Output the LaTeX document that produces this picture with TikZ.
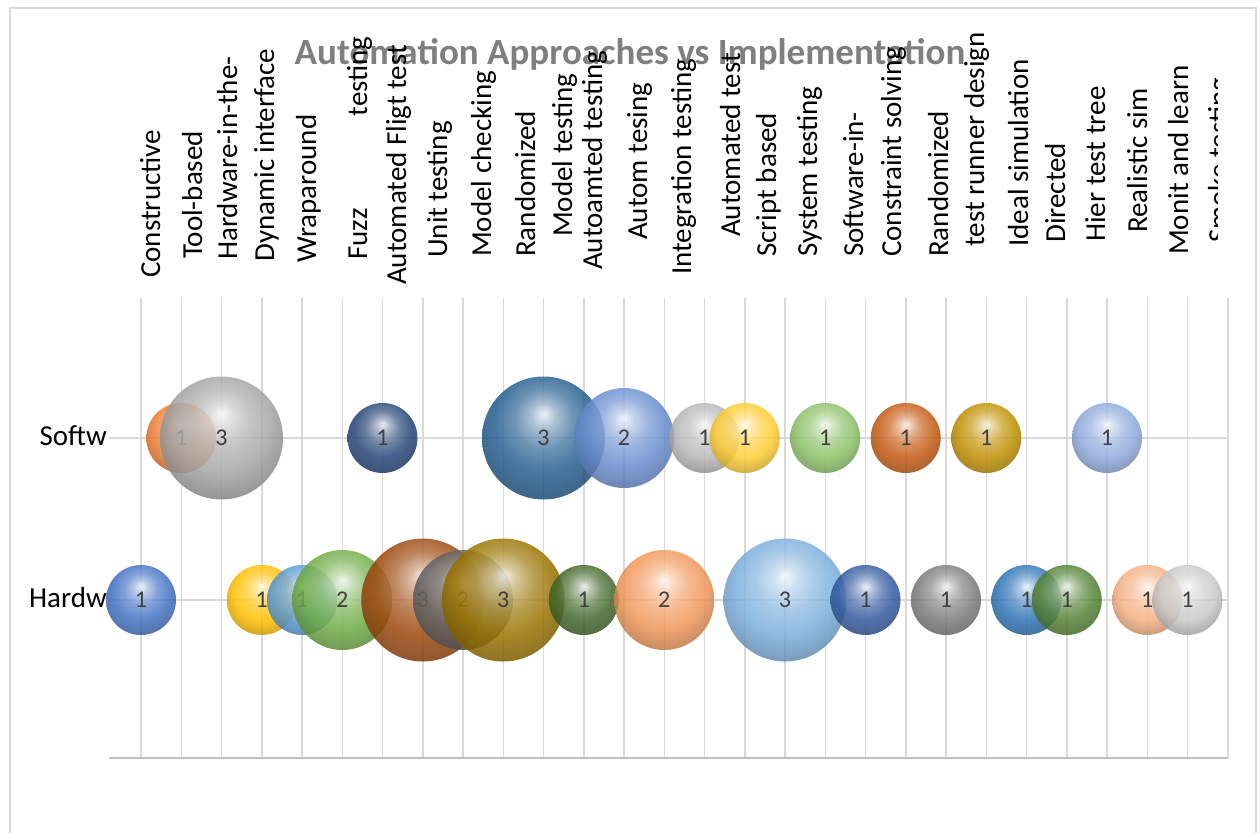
\documentclass[tikz,border=0pt]{standalone}
\usepackage{fontspec}
\setmainfont{Carlito}
\usepackage{xcolor}
\usepackage{tikz}
\usetikzlibrary{positioning,shadings}
% palette of the points, in the order of the data
\definecolor{bubA}{HTML}{4472C4}
\definecolor{bubB}{HTML}{ED7D31}
\definecolor{bubC}{HTML}{A5A5A5}
\definecolor{bubD}{HTML}{FFC000}
\definecolor{bubE}{HTML}{5B9BD5}
\definecolor{bubF}{HTML}{70AD47}
\definecolor{bubG}{HTML}{264478}
\definecolor{bubH}{HTML}{9E480E}
\definecolor{bubI}{HTML}{636363}
\definecolor{bubJ}{HTML}{997300}
\definecolor{bubK}{HTML}{255E91}
\definecolor{bubL}{HTML}{43682B}
\definecolor{bubM}{HTML}{698ED0}
\definecolor{bubN}{HTML}{F1975A}
\definecolor{bubO}{HTML}{B7B7B7}
\definecolor{bubP}{HTML}{FFCD33}
\definecolor{bubQ}{HTML}{7CAFDD}
\definecolor{bubR}{HTML}{8CC168}
\definecolor{bubS}{HTML}{335AA1}
\definecolor{bubT}{HTML}{C55A11}
\definecolor{bubU}{HTML}{7C7C7C}
\definecolor{bubV}{HTML}{BF9000}
\definecolor{bubW}{HTML}{2E75B6}
\definecolor{bubX}{HTML}{548235}
\definecolor{bubY}{HTML}{8FAADC}
\definecolor{bubZ}{HTML}{F4B183}
\definecolor{bubAA}{HTML}{C9C9C9}
\definecolor{gridgray}{HTML}{D9D9D9}
\definecolor{axisgray}{HTML}{BFBFBF}
\definecolor{titlegray}{HTML}{7F7F7F}
\definecolor{labelgray}{HTML}{404040}
\makeatletter
\pgfdeclareradialshading[tikz@ball]{bubble}{\pgfqpoint{0bp}{10bp}}{%
	color(0bp)=(tikz@ball!10!white);
	color(5bp)=(tikz@ball!45!white);
	color(12bp)=(tikz@ball!78!white);
	color(20bp)=(tikz@ball);
	color(28bp)=(tikz@ball!82!black);
	color(35bp)=(tikz@ball!68!black);
	color(50bp)=(tikz@ball!60!black)}
\makeatother
\tikzset{
	every bubble/.style = {
			circle,
			inner sep    = 0pt,
			fill opacity = .85,
			text opacity = 1,
			text         = labelgray,
			font         = \fontsize{24}{24}\selectfont,
		},
	bubble/.style = {every bubble, ball color=#1, shading=bubble},
	v1/.style = {minimum size=70pt},
	v2/.style = {minimum size=100pt},
	v3/.style = {minimum size=123pt}
}

\begin{document}
\begin{tikzpicture}
	[x=1pt, y=-1pt,
		% STYLES
		% grid lines of the plot area
		grid/.style={draw=gridgray, line width=1.5pt},
		% the rotated names along the top
		cat/.style={rotate=90, anchor=base west, inner sep=0pt,
				font=\fontsize{29}{30}\selectfont},
		% the two names of the rows
		row/.style={anchor=east, inner sep=0pt,
				font=\fontsize{29}{30}\selectfont}]

	\useasboundingbox (0,0) rectangle (1260,832);
	\clip (0,0) rectangle (1260,832);

	% Chart area
	\draw[gridgray, line width=2pt] (9.5,8) rectangle (1256,860);

	% Title
	\node[anchor=base, inner sep=0pt, text=titlegray,
		font=\fontsize{37}{37}\selectfont\bfseries] (title) at (630,65)
		{Automation Approaches vs Implementation};

	% Grid
	\foreach \i in {0,...,27}
	\draw[grid] ({141+40.25*\i},298) -- ({141+40.25*\i},757.7);
	\draw[grid] (109,438) -- (1227.75,438);
	\draw[grid] (109,600) -- (1227.75,600);
	\draw[draw=axisgray, line width=2pt] (109,757.7) -- (1227.75,757.7);

	% Rows
	\node[row] (softw) at (107,436) {Softw};
	\node[row] (hardw) at (107,598) {Hardw};

	% Categories
	\node[cat] (c0) at (160,278) {Constructive};
	\node[cat] (c1) at (202,259) {Tool-based};
	\node[cat] (c2) at (237,260) {Hardware-in-the-};
	\node[cat] (c3) at (274,262) {Dynamic interface};
	\node[cat] (c4) at (316,263) {Wraparound};
	\node[cat] (c5) at (367,260) {Fuzz\hspace{92pt}testing};
	\node[cat] (c6) at (406,285) {Automated Fligt test};
	\node[cat] (c7) at (447,258) {Unit testing};
	\node[cat] (c8) at (491,257) {Model checking};
	\node[cat] (c9) at (535,257) {Randomized};
	\node[cat] (c10) at (572,237) {Model testing};
	\node[cat] (c11) at (602,270) {Autoamted testing};
	\node[cat] (c12) at (647,240) {Autom tesing};
	\node[cat] (c13) at (691,275) {Integration testing};
	\node[cat] (c14) at (740,237) {Automated test};
	\node[cat] (c15) at (776,257) {Script based};
	\node[cat] (c16) at (817,257) {System testing};
	\node[cat] (c17) at (863,257) {Software-in-};
	\node[cat] (c18) at (901,257) {Constraint solving};
	\node[cat] (c19) at (948,257) {Randomized};
	\node[cat] (c20) at (984,247) {test runner design};
	\node[cat] (c21) at (1028,247) {Ideal simulation};
	\node[cat] (c22) at (1065,243) {Directed};
	\node[cat] (c23) at (1105,242) {Hier test tree};
	\node[cat] (c24) at (1147,233) {Realistic sim};
	\node[cat] (c25) at (1188,255) {Monit and learn};
	\begin{scope}
		\clip (1150,0) rectangle (1217,300);
		\node[cat] (c26) at (1228,243) {Smoke testing};
	\end{scope}

	% Bubbles, drawn in the order of the data
	\node[bubble=bubA, v1] (h0) at (141,600) {1};
	\node[bubble=bubB, v1] (s1) at (181.25,438) {1};
	\node[bubble=bubC, v3] (s2) at (221.5,438) {3};
	\node[bubble=bubD, v1] (h3) at (261.75,600) {1};
	\node[bubble=bubE, v1] (h4) at (302,600) {1};
	\node[bubble=bubF, v2] (h5) at (342.25,600) {2};
	\node[bubble=bubG, v1] (s6) at (382.5,438) {1};
	\node[bubble=bubH, v3] (h7) at (422.75,600) {3};
	\node[bubble=bubI, v2] (h8) at (463,600) {2};
	\node[bubble=bubJ, v3] (h9) at (503.25,600) {3};
	\node[bubble=bubK, v3] (s10) at (543.5,438) {3};
	\node[bubble=bubL, v1] (h11) at (583.75,600) {1};
	\node[bubble=bubM, v2] (s12) at (624,438) {2};
	\node[bubble=bubN, v2] (h13) at (664.25,600) {2};
	\node[bubble=bubO, v1] (s14) at (704.5,438) {1};
	\node[bubble=bubP, v1] (s15) at (744.75,438) {1};
	\node[bubble=bubQ, v3] (h16) at (785,600) {3};
	\node[bubble=bubR, v1] (s17) at (825.25,438) {1};
	\node[bubble=bubS, v1] (h18) at (865.5,600) {1};
	\node[bubble=bubT, v1] (s19) at (905.75,438) {1};
	\node[bubble=bubU, v1] (h20) at (946,600) {1};
	\node[bubble=bubV, v1] (s21) at (986.25,438) {1};
	\node[bubble=bubW, v1] (h22) at (1026.5,600) {1};
	\node[bubble=bubX, v1] (h23) at (1066.75,600) {1};
	\node[bubble=bubY, v1] (s24) at (1107,438) {1};
	\node[bubble=bubZ, v1] (h25) at (1147.25,600) {1};
	\node[bubble=bubAA, v1] (h26) at (1187.5,600) {1};
\end{tikzpicture}
\end{document}
